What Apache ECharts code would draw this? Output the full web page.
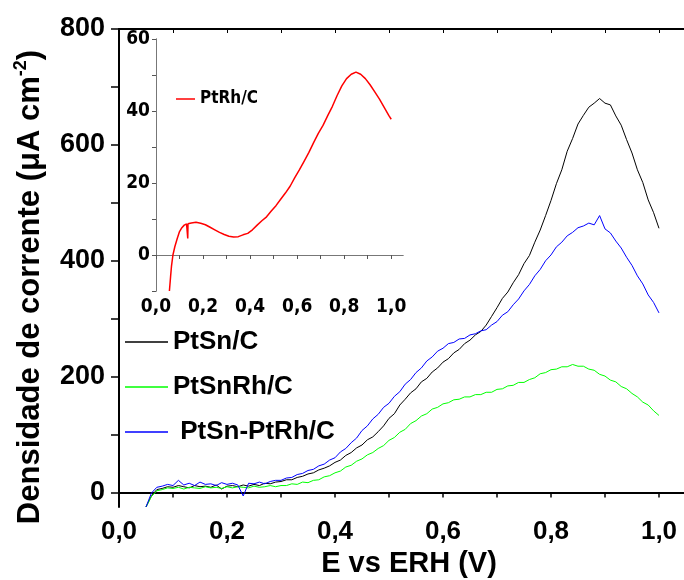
<!DOCTYPE html>
<html>
<head>
<meta charset="utf-8">
<script src="https://cdn.jsdelivr.net/npm/echarts@6/dist/echarts.min.js"></script>
<style>
html,body{margin:0;padding:0;background:#fff;}
#chart{width:684px;height:580px;}
</style>
</head>
<body>
<div id="chart"></div>
<script>
// ---- Data ----
const E = [0.05,0.06,0.07,0.08,0.09,0.10,0.11,0.12,0.13,0.14,0.15,0.16,0.17,0.18,0.19,0.20,0.21,0.22,0.23,0.24,0.25,0.26,0.27,0.28,0.29,0.30,0.31,0.32,0.33,0.34,0.35,0.36,0.37,0.38,0.39,0.40,0.41,0.42,0.43,0.44,0.45,0.46,0.47,0.48,0.49,0.50,0.51,0.52,0.53,0.54,0.55,0.56,0.57,0.58,0.59,0.60,0.61,0.62,0.63,0.64,0.65,0.66,0.67,0.68,0.69,0.70,0.71,0.72,0.73,0.74,0.75,0.76,0.77,0.78,0.79,0.80,0.81,0.82,0.83,0.84,0.85,0.86,0.87,0.88,0.89,0.90,0.91,0.92,0.93,0.94,0.95,0.96,0.97,0.98,0.99,1.00];

const PtSn = [-25,-6,5,7,10,9,12,10,8,12,10,11,9,13,6,11,12,10,13,11,14,12,16,15,18,19,22,22,26,28,32,34,39,42,46,52,56,64,69,77,82,91,96,105,115,128,136,151,161,172,179,191,197,208,215,225,231,241,247,257,263,272,278,289,304,319,335,346,362,376,395,409,432,453,478,504,533,557,589,611,636,651,665,672,680,672,669,650,634,609,586,557,535,505,483,456];

const PtSnRh = [-25,-7,3,5,8,7,9,6,9,8,7,10,8,9,7,10,8,10,9,8,11,9,10,12,10,12,12,15,14,18,17,21,22,27,29,34,37,44,47,54,58,65,69,76,81,90,95,104,109,119,124,132,136,144,147,153,155,160,161,165,165,169,169,173,173,178,179,184,185,190,190,195,198,205,207,212,213,217,217,221,218,218,213,211,204,201,194,191,183,179,171,165,156,151,141,133];

const PtSnPtRh = [-25,-1,9,11,14,12,21,13,16,12,18,14,15,12,17,14,16,13,-6,16,15,18,15,19,21,21,25,26,31,33,38,40,46,49,56,60,70,76,86,94,107,115,127,135,147,154,166,174,187,195,207,215,227,234,244,249,257,259,265,266,272,274,279,281,289,295,306,312,324,334,348,359,374,385,400,410,424,432,443,449,457,460,465,462,478,455,448,434,422,406,392,374,360,341,328,310];

// Inset: PtRh/C
const rhE = [0.057,0.062,0.066,0.072,0.08,0.09,0.10,0.11,0.12,0.13,0.134,0.135,0.136,0.15,0.17,0.19,0.21,0.23,0.25,0.27,0.29,0.31,0.33,0.35,0.37,0.39,0.41,0.43,0.45,0.47,0.49,0.51,0.53,0.55,0.57,0.59,0.61,0.63,0.65,0.67,0.69,0.71,0.73,0.75,0.77,0.79,0.81,0.83,0.85,0.87,0.89,0.91,0.93,0.95,0.97,0.99,1.00];
const rhJ = [-10,-6,-3,0,2.3,4.5,6.5,7.6,8.3,8.6,8.7,4.6,8.7,8.9,9.1,8.8,8.4,7.7,7.0,6.3,5.7,5.2,5.0,5.1,5.6,6.0,7.0,8.3,9.5,10.6,12.2,13.7,15.5,17.2,19.1,21.5,23.7,26.1,28.5,31.2,33.8,36.0,38.7,41.3,44.3,47.0,49.0,50.2,50.8,50.2,49.0,47.3,45.3,43.3,41.0,38.7,37.7];

// Tick values
const xLabelVals = [0,0.2,0.4,0.6,0.8,1.0];
const xTickVals = [0,0.1,0.2,0.3,0.4,0.5,0.6,0.7,0.8,0.9,1.0];
const yLabelVals = [0,200,400,600,800];
const yTickVals = [0,100,200,300,400,500,600,700,800];
const insetYLabelVals = [0,20,40,60];
const insetYTickVals = [-10,0,10,20,30,40,50,60];

const seriesNames = ['PtSn/C','PtSnRh/C','PtSn-PtRh/C'];
const insetName = 'PtRh/C';

// ---- Chart ----
const MAIN_FONT = "'Liberation Sans', Arial, Helvetica, sans-serif";
const NARROW_FONT = "'Liberation Sans Narrow', 'Arial Narrow', 'DejaVu Sans Condensed', 'Liberation Sans', sans-serif";
const comma = v => Number(v).toFixed(1).replace('.', ',');

const chart = echarts.init(document.getElementById('chart'), null, {renderer: 'canvas'});

const pairs = (xs, ys) => xs.map((x, i) => [x, ys[i]]);

const mainAxisLine = {show: true, lineStyle: {color: '#000', width: 2}};
const insetAxisLine = {show: true, lineStyle: {color: '#777', width: 1}};

const option = {
  animation: false,
  backgroundColor: '#fff',
  grid: [
    {left: 119, top: 29, width: 565, height: 478, show: false, outerBoundsMode: 'none', containLabel: false},
    {left: 156, top: 39, width: 247, height: 252, show: true, backgroundColor: '#fff', borderWidth: 0, z: 5, outerBoundsMode: 'none', containLabel: false}
  ],
  xAxis: [
    { // main bottom
      gridIndex: 0, type: 'value', position: 'bottom', min: 0, max: 1.0463,
      axisLine: mainAxisLine,
      axisTick: {show: true, inside: false, length: 5, customValues: xTickVals, lineStyle: {color: '#000', width: 1.5}},
      axisLabel: {show: true, customValues: xLabelVals, formatter: comma, margin: 12,
        fontFamily: MAIN_FONT, fontWeight: 'bold', fontSize: 26, color: '#000'},
      splitLine: {show: false}
    },
    { // main top
      gridIndex: 0, type: 'value', position: 'top', min: 0, max: 1.0463,
      axisLine: mainAxisLine,
      axisTick: {show: true, inside: true, length: 4, customValues: xTickVals, lineStyle: {color: '#000', width: 1}},
      axisLabel: {show: false},
      splitLine: {show: false}
    },
    { // inset bottom
      gridIndex: 1, type: 'value', position: 'bottom', min: 0, max: 1.05,
      axisLine: insetAxisLine,
      axisTick: {show: true, inside: false, length: 4, customValues: xTickVals, lineStyle: {color: '#555'}},
      axisLabel: {show: true, customValues: xLabelVals, formatter: comma, margin: 7,
        fontFamily: NARROW_FONT, fontWeight: 'bold', fontSize: 19, color: '#000'},
      splitLine: {show: false}, z: 6
    },
    { // inset top
      gridIndex: 1, type: 'value', position: 'top', min: 0, max: 1.05,
      axisLine: insetAxisLine,
      axisTick: {show: true, inside: true, length: 3, customValues: xTickVals, lineStyle: {color: '#555'}},
      axisLabel: {show: false},
      splitLine: {show: false}, z: 6
    }
  ],
  yAxis: [
    { // main left
      gridIndex: 0, type: 'value', position: 'left', min: -25, max: 800,
      axisLine: mainAxisLine,
      axisTick: {show: true, inside: false, length: 8, customValues: yTickVals, lineStyle: {color: '#000', width: 1.5}},
      axisLabel: {show: true, customValues: yLabelVals, margin: 14,
        fontFamily: MAIN_FONT, fontWeight: 'bold', fontSize: 27, color: '#000'},
      splitLine: {show: false}
    },
    { // inset left
      gridIndex: 1, type: 'value', position: 'left', min: -10, max: 60,
      axisLine: insetAxisLine,
      axisTick: {show: true, inside: false, length: 4, customValues: insetYTickVals, lineStyle: {color: '#555'}},
      axisLabel: {show: true, customValues: insetYLabelVals, margin: 6,
        fontFamily: NARROW_FONT, fontWeight: 'bold', fontSize: 19, color: '#000'},
      splitLine: {show: false}, z: 6
    },
    { // inset right
      gridIndex: 1, type: 'value', position: 'right', min: -10, max: 60,
      axisLine: insetAxisLine,
      axisTick: {show: true, inside: true, length: 3, customValues: insetYTickVals, lineStyle: {color: '#555'}},
      axisLabel: {show: false},
      splitLine: {show: false}, z: 6
    }
  ],
  legend: [
    {
      data: seriesNames, orient: 'vertical', left: 125, top: 327, padding: 0,
      icon: 'rect', itemWidth: 43, itemHeight: 1.5, itemGap: 15,
      formatter: n => n === 'PtSn-PtRh/C' ? ' ' + n : n,
      textStyle: {fontFamily: MAIN_FONT, fontWeight: 'bold', fontSize: 26, lineHeight: 30, color: '#000'},
      selectedMode: false
    },
    {
      data: [insetName], orient: 'vertical', left: 176, top: 90, padding: 0,
      icon: 'rect', itemWidth: 19, itemHeight: 1.5, itemGap: 5,
      textStyle: {fontFamily: NARROW_FONT, fontWeight: 'bold', fontSize: 17, lineHeight: 18, color: '#000'},
      selectedMode: false, z: 7
    }
  ],
  series: [
    {name: 'PtSn/C', type: 'line', xAxisIndex: 0, yAxisIndex: 0, data: pairs(E, PtSn),
      symbol: 'none', lineStyle: {color: '#000', width: 1}, itemStyle: {color: '#000'}},
    {name: 'PtSnRh/C', type: 'line', xAxisIndex: 0, yAxisIndex: 0, data: pairs(E, PtSnRh),
      symbol: 'none', lineStyle: {color: '#00ff00', width: 1}, itemStyle: {color: '#00ff00'}},
    {name: 'PtSn-PtRh/C', type: 'line', xAxisIndex: 0, yAxisIndex: 0, data: pairs(E, PtSnPtRh),
      symbol: 'none', lineStyle: {color: '#0000ff', width: 1}, itemStyle: {color: '#0000ff'}},
    {name: 'PtRh/C', type: 'line', xAxisIndex: 2, yAxisIndex: 1, data: pairs(rhE, rhJ),
      symbol: 'none', lineStyle: {color: '#ff0000', width: 1.5}, itemStyle: {color: '#ff0000'}, z: 7}
  ],
  graphic: [
    {type: 'text', x: 409, y: 564, style: {
      text: 'E vs ERH (V)', font: "bold 29px " + MAIN_FONT, fill: '#000',
      textAlign: 'center', textVerticalAlign: 'middle'}},
    {type: 'text', x: 30, y: 287, rotation: Math.PI / 2, style: {
      text: '{m|Densidade de corrente (μA cm}{s|-2}{m|)}',
      rich: {
        m: {fontFamily: MAIN_FONT, fontWeight: 'bold', fontSize: 31, lineHeight: 36, fill: '#000'},
        s: {fontFamily: MAIN_FONT, fontWeight: 'bold', fontSize: 18, lineHeight: 18, verticalAlign: 'top', fill: '#000'}
      },
      textAlign: 'center', textVerticalAlign: 'middle'}}
  ]
};

chart.setOption(option);
</script>
</body>
</html>
